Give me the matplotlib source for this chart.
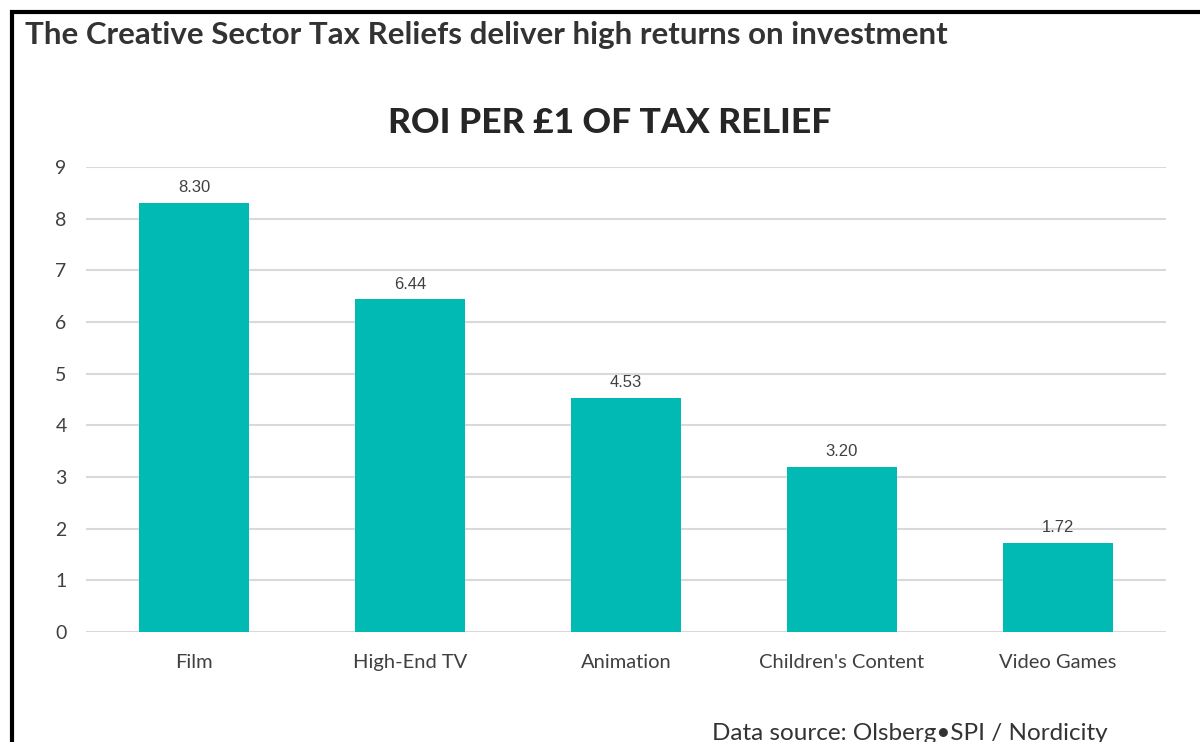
import matplotlib.pyplot as plt
from matplotlib.patches import Rectangle

categories = ['Film', 'High-End TV', 'Animation', "Children's Content", 'Video Games']
roi = [8.30, 6.44, 4.53, 3.20, 1.72]
yticks = [0, 1, 2, 3, 4, 5, 6, 7, 8, 9]

fig = plt.figure(figsize=(12, 7.42), dpi=100)

# black frame around the panel (runs off the right and bottom edges)
fig.patches.append(Rectangle((12 / 1200, -0.05), 1.2, 1 - 12 / 742 + 0.05,
                             transform=fig.transFigure, fill=False,
                             edgecolor='black', linewidth=3))

fig.text(25 / 1200, 1 - 35 / 742,
         'The Creative Sector Tax Reliefs deliver high returns on investment',
         fontsize=22.5, fontweight='bold', family='Lato', color='#333333',
         ha='left', va='center')

ax = fig.add_axes([86 / 1200, 110 / 742, 1080 / 1200, 465 / 742])
x = range(len(categories))
bars = ax.bar(x, roi, width=0.51, color='#00BAB3', zorder=3)
for b, v in zip(bars, roi):
    ax.text(b.get_x() + b.get_width() / 2, v + 0.15, f'{v:.2f}',
            ha='center', va='bottom', fontsize=12, color='#404040',
            family='Liberation Sans')

ax.set_xlim(-0.5, len(categories) - 0.5)
ax.set_ylim(0, 9)
ax.set_yticks(yticks)
ax.set_xticks(list(x))
ax.set_xticklabels(categories, family='Lato', fontsize=14.5, color='#404040')
for lbl in ax.get_yticklabels():
    lbl.set_family('Lato')
    lbl.set_fontsize(14)
    lbl.set_color('#404040')
ax.tick_params(axis='both', length=0)
ax.tick_params(axis='y', pad=14)
ax.tick_params(axis='x', pad=16)
ax.grid(axis='y', color='#d9d9d9', linewidth=1.5, zorder=0)
for s in ax.spines.values():
    s.set_visible(False)

fig.text(610 / 1200, 1 - 123 / 742, 'ROI PER £1 OF TAX RELIEF', fontsize=25.5,
         fontweight='black', family='Lato', color='#262626',
         ha='center', va='center')

fig.text(712 / 1200, 1 - 733 / 742, 'Data source: Olsberg\u2022SPI / Nordicity',
         fontsize=17.5, family='Lato', color='#333333', ha='left', va='center')

fig.savefig('out.png', dpi=100)
